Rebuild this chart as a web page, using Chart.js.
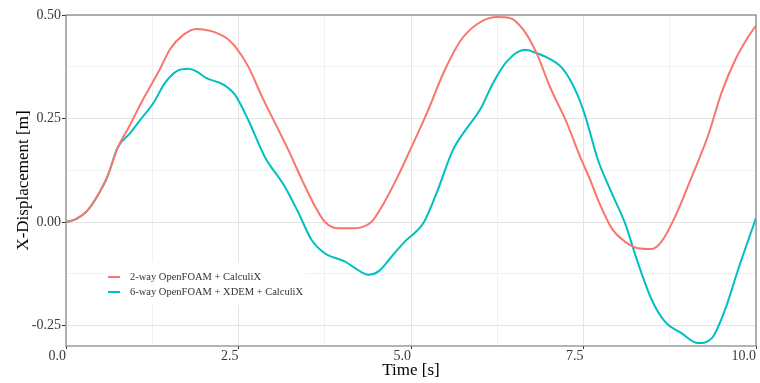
<!DOCTYPE html>
<html>
<head>
<meta charset="utf-8">
<script src="https://cdn.jsdelivr.net/npm/chart.js@4"></script>
<style>
html,body{margin:0;padding:0;background:#fff;}
#wrap{width:760px;height:383px;position:relative;}
</style>
</head>
<body>
<div id="wrap"><canvas id="c" width="760" height="383"></canvas></div>
<script>
// ---- data ----
const seriesNames = ["2-way OpenFOAM + CalculiX", "6-way OpenFOAM + XDEM + CalculiX"];
const twoWayTime = [0, 0.15, 0.3, 0.45, 0.6, 0.75, 0.9, 1.12, 1.36, 1.51, 1.70, 1.89, 2.05, 2.18, 2.33, 2.45, 2.64, 2.84, 3.03, 3.22, 3.42, 3.61, 3.75, 3.95, 4.15, 4.29, 4.43, 4.62, 4.82, 4.99, 5.23, 5.47, 5.71, 5.95, 6.24, 6.43, 6.63, 6.82, 7.01, 7.26, 7.45, 7.59, 7.71, 7.91, 8.10, 8.29, 8.49, 8.63, 8.83, 9.07, 9.31, 9.50, 9.70, 9.89, 10.0];
const twoWayDisp = [0, 0.008, 0.026, 0.062, 0.110, 0.180, 0.226, 0.297, 0.369, 0.418, 0.452, 0.466, 0.463, 0.457, 0.444, 0.424, 0.376, 0.303, 0.239, 0.175, 0.102, 0.038, 0.001, -0.015, -0.015, -0.012, 0.001, 0.050, 0.114, 0.175, 0.263, 0.360, 0.436, 0.477, 0.495, 0.493, 0.464, 0.408, 0.328, 0.239, 0.158, 0.105, 0.054, -0.015, -0.047, -0.063, -0.065, -0.047, 0.014, 0.110, 0.211, 0.312, 0.392, 0.448, 0.474];
const sixWayTime = [0, 0.15, 0.3, 0.45, 0.6, 0.75, 0.93, 1.1, 1.265, 1.43, 1.60, 1.77, 1.89, 2.03, 2.28, 2.45, 2.64, 2.88, 3.17, 3.37, 3.56, 3.75, 4.04, 4.19, 4.38, 4.53, 4.72, 4.91, 5.06, 5.18, 5.37, 5.61, 5.81, 6.0, 6.19, 6.39, 6.65, 6.82, 7.01, 7.21, 7.40, 7.52, 7.71, 7.91, 8.10, 8.29, 8.49, 8.68, 8.92, 9.16, 9.36, 9.55, 9.74, 10.0];
const sixWayDisp = [0, 0.008, 0.026, 0.062, 0.110, 0.180, 0.215, 0.252, 0.287, 0.335, 0.364, 0.370, 0.364, 0.348, 0.332, 0.307, 0.247, 0.158, 0.086, 0.022, -0.043, -0.075, -0.095, -0.111, -0.127, -0.119, -0.083, -0.047, -0.025, -0.002, 0.070, 0.175, 0.227, 0.271, 0.336, 0.388, 0.416, 0.408, 0.394, 0.368, 0.312, 0.259, 0.150, 0.070, -0.002, -0.099, -0.188, -0.240, -0.268, -0.292, -0.280, -0.212, -0.115, 0.010];
const xTicks = [0, 1.25, 2.5, 3.75, 5, 6.25, 7.5, 8.75, 10];
const yTicks = [-0.25, -0.125, 0, 0.125, 0.25, 0.375, 0.5];
const xMajor = [0, 2.5, 5, 7.5, 10];
const yMajor = [-0.25, 0, 0.25, 0.5];
const colors = ["#F8766D", "#00BFC4"];

const FONT = "'Liberation Serif', 'DejaVu Serif', serif";
const isMajor = (arr, v) => arr.some(m => Math.abs(m - v) < 1e-9);

const legendPlugin = {
  id: 'insideLegend',
  beforeDatasetsDraw(chart) {
    const ctx = chart.ctx;
    ctx.save();
    ctx.fillStyle = '#ffffff';
    ctx.fillRect(106, 262, 200, 43);
    ctx.restore();
  },
  afterDraw(chart) {
    const ctx = chart.ctx;
    const a = chart.chartArea;
    ctx.save();
    const rows = [277, 292];
    ctx.font = "10.5px " + FONT;
    ctx.textBaseline = 'middle';
    ctx.textAlign = 'left';
    seriesNames.forEach((n, i) => {
      ctx.strokeStyle = colors[i];
      ctx.lineWidth = 2;
      ctx.beginPath();
      ctx.moveTo(108, rows[i]);
      ctx.lineTo(120, rows[i]);
      ctx.stroke();
      ctx.fillStyle = '#333333';
      ctx.fillText(n, 130, rows[i] + 0.5);
    });
    ctx.strokeStyle = '#8c8c8c';
    ctx.lineWidth = 1.3;
    ctx.strokeRect(a.left, a.top, a.right - a.left, a.bottom - a.top);
    ctx.restore();
  }
};

new Chart(document.getElementById('c'), {
  type: 'line',
  data: {
    datasets: [
      { label: seriesNames[0], data: twoWayTime.map((t, i) => ({x: t, y: twoWayDisp[i]})),
        borderColor: colors[0], borderWidth: 2, pointRadius: 0, fill: false,
        cubicInterpolationMode: 'monotone', tension: 0.4 },
      { label: seriesNames[1], data: sixWayTime.map((t, i) => ({x: t, y: sixWayDisp[i]})),
        borderColor: colors[1], borderWidth: 2, pointRadius: 0, fill: false,
        cubicInterpolationMode: 'monotone', tension: 0.4 }
    ]
  },
  options: {
    responsive: false,
    animation: false,
    devicePixelRatio: 1,
    layout: { padding: { left: 0, right: 4, top: 15, bottom: 0 } },
    plugins: { legend: { display: false }, tooltip: { enabled: false } },
    scales: {
      x: {
        type: 'linear', min: 0, max: 10,
        afterBuildTicks: s => { s.ticks = xTicks.map(v => ({value: v})); },
        afterFit: s => { s.height = 37; },
        grid: {
          color: c => isMajor(xMajor, c.tick.value) ? '#e4e4e4' : '#f1f1f1',
          lineWidth: 1,
          tickLength: 3,
          tickColor: c => isMajor(xMajor, c.tick.value) ? '#333333' : 'rgba(0,0,0,0)'
        },
        border: { display: false },
        ticks: {
          autoSkip: false, maxRotation: 0, align: 'end', padding: -1,
          color: '#3a3a3a', font: { family: FONT, size: 14 },
          callback: v => isMajor(xMajor, v) ? v.toFixed(1) : ''
        },
        title: { display: true, text: 'Time [s]', color: '#000', font: { family: FONT, size: 17 },
          padding: { top: 0, bottom: 2 } }
      },
      y: {
        type: 'linear', min: -0.299, max: 0.5,
        afterBuildTicks: s => { s.ticks = yTicks.map(v => ({value: v})); },
        afterFit: s => { s.width = 66; },
        grid: {
          color: c => isMajor(yMajor, c.tick.value) ? '#e4e4e4' : '#f1f1f1',
          lineWidth: 1,
          tickLength: 4,
          tickColor: c => isMajor(yMajor, c.tick.value) ? '#333333' : 'rgba(0,0,0,0)'
        },
        border: { display: false },
        ticks: {
          autoSkip: false, padding: 1,
          color: '#3a3a3a', font: { family: FONT, size: 14 },
          callback: v => isMajor(yMajor, v) ? v.toFixed(2) : ''
        },
        title: { display: true, text: 'X-Displacement [m]', color: '#000', font: { family: FONT, size: 17 },
          padding: { top: 13, bottom: 0 } }
      }
    }
  },
  plugins: [legendPlugin]
});
</script>
</body>
</html>
